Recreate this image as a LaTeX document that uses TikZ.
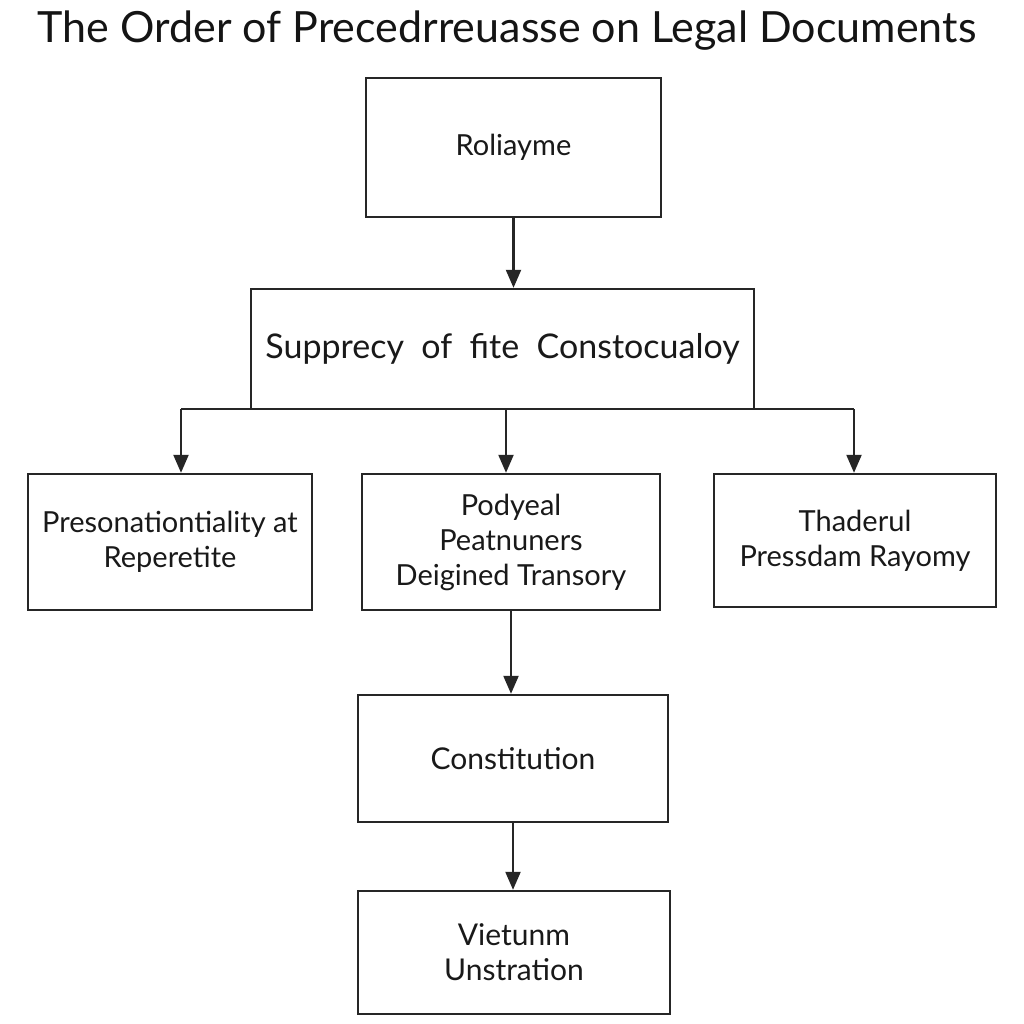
\documentclass[tikz,border=0pt]{standalone}
\usepackage{fontspec}
\setmainfont{Lato}
\usetikzlibrary{arrows.meta}
\begin{document}
\begin{tikzpicture}[x=1pt,y=-1pt,
  box/.style={draw=black!85, line width=2.4pt, rectangle, inner sep=0pt, align=center, text=black!90},
  arr/.style={draw=black!85, line width=2.2pt, -{Triangle[length=18pt,width=15pt]}},
  ln/.style={draw=black!85, line width=2.4pt}]
\fill[white] (0,0) rectangle (1024,1024);
\useasboundingbox (0,0) rectangle (1024,1024);
\node[font=\fontsize{43}{48}\selectfont, text=black!92] (title) at (507,31) {The Order of Precedrreuasse on Legal Documents};
\node[box, minimum width=295pt, minimum height=139pt, font=\fontsize{29}{34}\selectfont] (top) at (513.5,147.5) {Roliayme};
\node[box, minimum width=503pt, minimum height=120pt, font=\fontsize{34}{40}\selectfont] (big) at (502.5,349) {Supprecy \ of \ fite \ Constocualoy};
\node[box, minimum width=284pt, minimum height=136pt, font=\fontsize{29}{35}\selectfont] (left) at (170,542) {Presonationtiality at\\Reperetite};
\node[box, minimum width=298pt, minimum height=136pt, font=\fontsize{29}{35}\selectfont] (mid) at (511,542) {Podyeal\\Peatnuners\\Deigined Transory};
\node[box, minimum width=282pt, minimum height=133pt, font=\fontsize{29}{35}\selectfont] (right) at (855,540.5) {Thaderul\\Pressdam Rayomy};
\node[box, minimum width=310pt, minimum height=127pt, font=\fontsize{30}{35}\selectfont] (cons) at (513,758.5) {Constitution};
\node[box, minimum width=312pt, minimum height=123pt, font=\fontsize{30}{35}\selectfont] (vie) at (514,952.5) {Vietunm\\Unstration};
\coordinate (jl) at (181,409);
\coordinate (jm) at (506,409);
\coordinate (jr) at (854,409);
\draw[arr] (top.south) -- (top.south |- big.north);
\draw[ln] (jl) -- (jr);
\draw[arr] (jl) -- (jl |- left.north);
\draw[arr] (jm) -- (jm |- mid.north);
\draw[arr] (jr) -- (jr |- right.north);
\draw[arr] (mid.south) -- (mid.south |- cons.north);
\draw[arr] (cons.south) -- (cons.south |- vie.north);
\end{tikzpicture}
\end{document}
